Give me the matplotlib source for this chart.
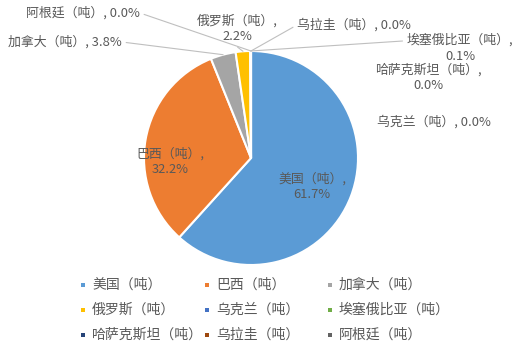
import numpy as np
import matplotlib.pyplot as plt
from matplotlib.patches import Rectangle

plt.rcParams['font.family'] = ['Noto Sans CJK SC', 'DejaVu Sans']

# 各国份额 (%)
countries = ['美国（吨）', '巴西（吨）', '加拿大（吨）', '俄罗斯（吨）', '乌克兰（吨）',
             '埃塞俄比亚（吨）', '哈萨克斯坦（吨）', '乌拉圭（吨）', '阿根廷（吨）']
shares = [61.7, 32.2, 3.8, 2.2, 0.0, 0.1, 0.0, 0.0, 0.0]
colors = ['#5B9BD5', '#ED7D31', '#A5A5A5', '#FFC000', '#4472C4',
          '#70AD47', '#264478', '#9E480E', '#636363']

W, H = 516, 352
fig = plt.figure(figsize=(W / 100, H / 100), dpi=100)

cx, cy, r = 251, 158, 107
ax = fig.add_axes([(cx - r) / W, (H - cy - r) / H, 2 * r / W, 2 * r / H])
wedges, _ = ax.pie(shares, colors=colors, startangle=90, counterclock=False,
                   radius=1, wedgeprops=dict(edgecolor='white', linewidth=1.5))
ax.set_xlim(-1, 1)
ax.set_ylim(-1, 1)

txt = '#595959'
fs = 9.3

# 标签位置 (像素, 从顶部算起) 和引线起点
label_pos = {
    1: (170, 162, 'center', None),
    0: (312, 187, 'center', None),
    8: (140, 13, 'right', (1, 0.5)),
    2: (122, 42, 'right', (1, 0.5)),
    3: (237, 29, 'center', (0.45, 0.0)),
    7: (297, 25, 'left', (0, 0.5)),
    5: (460, 48, 'center', (0, 0.75)),
    6: (428, 78, 'center', None),
    4: (434, 122, 'center', None),
}
two_line = {0, 1, 3, 5, 6}

for i, (x, y, ha, rel) in label_pos.items():
    name = countries[i]
    val = f'{shares[i]:.1f}%'
    if i in two_line:
        s = f'{name},\n{val}'
    else:
        s = f'{name}, {val}'
    w = wedges[i]
    mid = np.deg2rad((w.theta1 + w.theta2) / 2)
    xy = (np.cos(mid), np.sin(mid))
    if rel is None:
        fig.text(x / W, 1 - y / H, s, ha=ha, va='center', fontsize=fs,
                 color=txt, linespacing=1.25, multialignment='center')
    else:
        ax.annotate(s, xy=xy, xycoords='data',
                    xytext=(x, H - y), textcoords='figure pixels',
                    ha=ha, va='center', fontsize=fs, color=txt,
                    linespacing=1.25, multialignment='center',
                    arrowprops=dict(arrowstyle='-', color='#BFBFBF', lw=0.8,
                                    shrinkA=1, shrinkB=0, relpos=rel),
                    annotation_clip=False)

# 图例: 按行排列, 三列
col_x = [83, 207, 330]
row_y = [285, 310, 335]
sq = 4.5
for k, (name, c) in enumerate(zip(countries, colors)):
    x = col_x[k % 3]
    y = row_y[k // 3]
    fig.patches.append(Rectangle(((x - sq / 2) / W, (H - y - sq / 2) / H),
                                 sq / W, sq / H, transform=fig.transFigure,
                                 facecolor=c, edgecolor='none'))
    fig.text((x + 9) / W, 1 - y / H, name, ha='left', va='center',
             fontsize=10, color=txt)

fig.savefig('out.png', dpi=100)
